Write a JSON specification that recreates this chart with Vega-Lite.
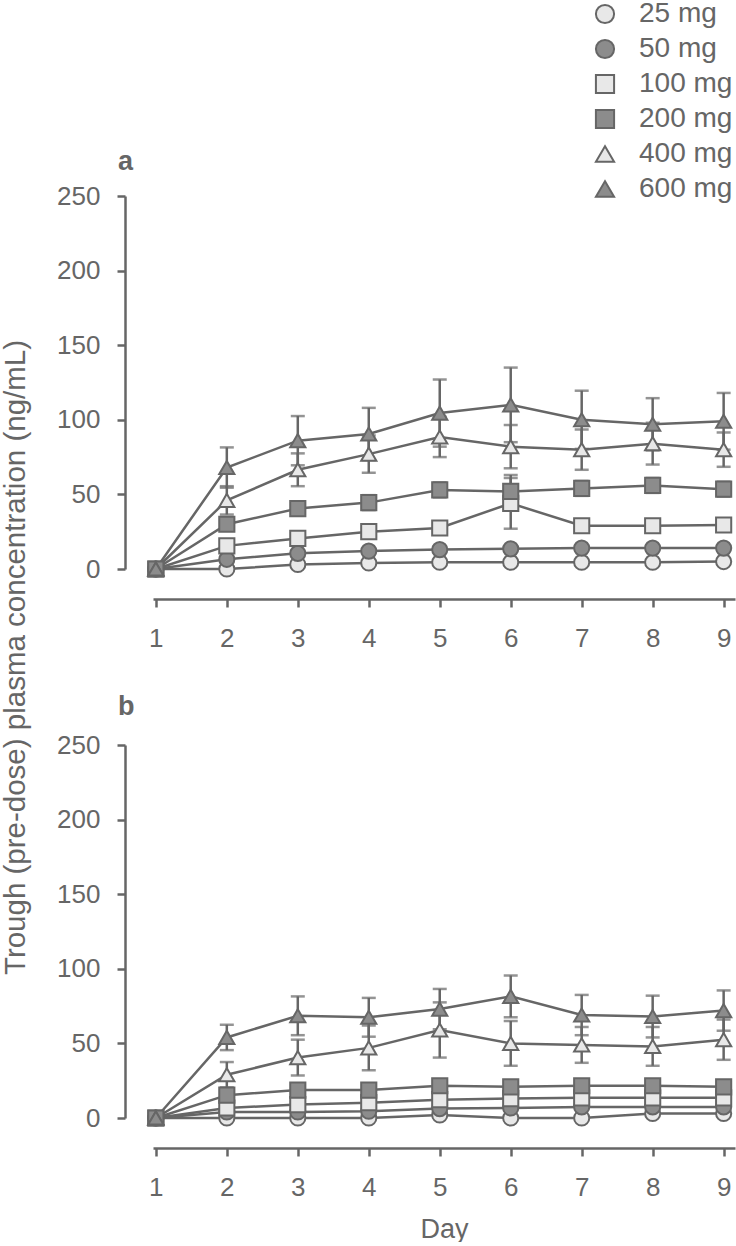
{
  "$schema": "https://vega.github.io/schema/vega-lite/v6.json",
  "background": "white",
  "autosize": {"type": "pad"},
  "padding": {"left": 0, "top": 0, "right": 0, "bottom": 0},
  "bounds": "flush",
  "spacing": 176,
  "config": {
    "font": "Liberation Sans",
    "view": {"stroke": null},
    "axis": {
      "grid": false,
      "domainColor": "#666666",
      "domainWidth": 2.5,
      "tickColor": "#666666",
      "tickWidth": 2.5,
      "tickSize": 8,
      "labelColor": "#666666",
      "labelFont": "Liberation Sans",
      "labelFontSize": 26,
      "titleColor": "#666666",
      "titleFont": "Liberation Sans",
      "titleFontSize": 27,
      "titleFontWeight": "normal"
    },
    "legend": {
      "labelFont": "Liberation Sans",
      "labelFontSize": 28,
      "labelColor": "#666666",
      "symbolStrokeWidth": 2,
      "symbolSize": 330,
      "rowPadding": 7,
      "labelOffset": 20,
      "padding": 0
    }
  },
  "data": {
    "values": [
      {"panel": "a", "dose": "25 mg", "day": 1, "mean": 0, "sd": 0},
      {"panel": "a", "dose": "25 mg", "day": 2, "mean": 0, "sd": 1.5},
      {"panel": "a", "dose": "25 mg", "day": 3, "mean": 3, "sd": 1.5},
      {"panel": "a", "dose": "25 mg", "day": 4, "mean": 4, "sd": 1.5},
      {"panel": "a", "dose": "25 mg", "day": 5, "mean": 4.5, "sd": 1.5},
      {"panel": "a", "dose": "25 mg", "day": 6, "mean": 4.5, "sd": 1.5},
      {"panel": "a", "dose": "25 mg", "day": 7, "mean": 4.5, "sd": 1.5},
      {"panel": "a", "dose": "25 mg", "day": 8, "mean": 4.5, "sd": 1.5},
      {"panel": "a", "dose": "25 mg", "day": 9, "mean": 5, "sd": 1.5},
      {"panel": "a", "dose": "50 mg", "day": 1, "mean": 0, "sd": 0},
      {"panel": "a", "dose": "50 mg", "day": 2, "mean": 6.5, "sd": 2},
      {"panel": "a", "dose": "50 mg", "day": 3, "mean": 10.5, "sd": 2},
      {"panel": "a", "dose": "50 mg", "day": 4, "mean": 12, "sd": 2},
      {"panel": "a", "dose": "50 mg", "day": 5, "mean": 13, "sd": 2},
      {"panel": "a", "dose": "50 mg", "day": 6, "mean": 13.5, "sd": 2},
      {"panel": "a", "dose": "50 mg", "day": 7, "mean": 14, "sd": 2},
      {"panel": "a", "dose": "50 mg", "day": 8, "mean": 14, "sd": 2},
      {"panel": "a", "dose": "50 mg", "day": 9, "mean": 14, "sd": 2},
      {"panel": "a", "dose": "100 mg", "day": 1, "mean": 0, "sd": 0},
      {"panel": "a", "dose": "100 mg", "day": 2, "mean": 15.5, "sd": 3},
      {"panel": "a", "dose": "100 mg", "day": 3, "mean": 20.5, "sd": 3},
      {"panel": "a", "dose": "100 mg", "day": 4, "mean": 25, "sd": 3},
      {"panel": "a", "dose": "100 mg", "day": 5, "mean": 27.5, "sd": 3},
      {"panel": "a", "dose": "100 mg", "day": 6, "mean": 44, "sd": 17},
      {"panel": "a", "dose": "100 mg", "day": 7, "mean": 29, "sd": 3},
      {"panel": "a", "dose": "100 mg", "day": 8, "mean": 29, "sd": 3},
      {"panel": "a", "dose": "100 mg", "day": 9, "mean": 29.5, "sd": 3},
      {"panel": "a", "dose": "200 mg", "day": 1, "mean": 0, "sd": 0},
      {"panel": "a", "dose": "200 mg", "day": 2, "mean": 30, "sd": 4},
      {"panel": "a", "dose": "200 mg", "day": 3, "mean": 40.5, "sd": 3},
      {"panel": "a", "dose": "200 mg", "day": 4, "mean": 44.5, "sd": 5},
      {"panel": "a", "dose": "200 mg", "day": 5, "mean": 53, "sd": 5},
      {"panel": "a", "dose": "200 mg", "day": 6, "mean": 52, "sd": 11},
      {"panel": "a", "dose": "200 mg", "day": 7, "mean": 54, "sd": 5},
      {"panel": "a", "dose": "200 mg", "day": 8, "mean": 56, "sd": 5},
      {"panel": "a", "dose": "200 mg", "day": 9, "mean": 53.5, "sd": 5},
      {"panel": "a", "dose": "400 mg", "day": 1, "mean": 0, "sd": 0},
      {"panel": "a", "dose": "400 mg", "day": 2, "mean": 46, "sd": 9.5},
      {"panel": "a", "dose": "400 mg", "day": 3, "mean": 66.5, "sd": 11},
      {"panel": "a", "dose": "400 mg", "day": 4, "mean": 77, "sd": 12.5},
      {"panel": "a", "dose": "400 mg", "day": 5, "mean": 88.5, "sd": 13.5},
      {"panel": "a", "dose": "400 mg", "day": 6, "mean": 82, "sd": 14.5},
      {"panel": "a", "dose": "400 mg", "day": 7, "mean": 80, "sd": 13.5},
      {"panel": "a", "dose": "400 mg", "day": 8, "mean": 84, "sd": 14},
      {"panel": "a", "dose": "400 mg", "day": 9, "mean": 80, "sd": 11.5},
      {"panel": "a", "dose": "600 mg", "day": 1, "mean": 0, "sd": 0},
      {"panel": "a", "dose": "600 mg", "day": 2, "mean": 68, "sd": 13.5},
      {"panel": "a", "dose": "600 mg", "day": 3, "mean": 86, "sd": 16.5},
      {"panel": "a", "dose": "600 mg", "day": 4, "mean": 90.5, "sd": 17.5},
      {"panel": "a", "dose": "600 mg", "day": 5, "mean": 104.5, "sd": 22.5},
      {"panel": "a", "dose": "600 mg", "day": 6, "mean": 110, "sd": 25},
      {"panel": "a", "dose": "600 mg", "day": 7, "mean": 100, "sd": 19.5},
      {"panel": "a", "dose": "600 mg", "day": 8, "mean": 97, "sd": 17.5},
      {"panel": "a", "dose": "600 mg", "day": 9, "mean": 99, "sd": 19},
      {"panel": "b", "dose": "25 mg", "day": 1, "mean": 0, "sd": 0},
      {"panel": "b", "dose": "25 mg", "day": 2, "mean": 0, "sd": 1},
      {"panel": "b", "dose": "25 mg", "day": 3, "mean": 0, "sd": 1},
      {"panel": "b", "dose": "25 mg", "day": 4, "mean": 0, "sd": 1},
      {"panel": "b", "dose": "25 mg", "day": 5, "mean": 2, "sd": 1},
      {"panel": "b", "dose": "25 mg", "day": 6, "mean": 0, "sd": 1},
      {"panel": "b", "dose": "25 mg", "day": 7, "mean": 0, "sd": 1},
      {"panel": "b", "dose": "25 mg", "day": 8, "mean": 3, "sd": 1},
      {"panel": "b", "dose": "25 mg", "day": 9, "mean": 3, "sd": 1},
      {"panel": "b", "dose": "50 mg", "day": 1, "mean": 0, "sd": 0},
      {"panel": "b", "dose": "50 mg", "day": 2, "mean": 4, "sd": 1.5},
      {"panel": "b", "dose": "50 mg", "day": 3, "mean": 4, "sd": 1.5},
      {"panel": "b", "dose": "50 mg", "day": 4, "mean": 4.5, "sd": 1.5},
      {"panel": "b", "dose": "50 mg", "day": 5, "mean": 6.3, "sd": 1.5},
      {"panel": "b", "dose": "50 mg", "day": 6, "mean": 6.7, "sd": 1.5},
      {"panel": "b", "dose": "50 mg", "day": 7, "mean": 7.4, "sd": 1.5},
      {"panel": "b", "dose": "50 mg", "day": 8, "mean": 7.4, "sd": 1.5},
      {"panel": "b", "dose": "50 mg", "day": 9, "mean": 7.4, "sd": 1.5},
      {"panel": "b", "dose": "100 mg", "day": 1, "mean": 0, "sd": 0},
      {"panel": "b", "dose": "100 mg", "day": 2, "mean": 6.7, "sd": 2.5},
      {"panel": "b", "dose": "100 mg", "day": 3, "mean": 9, "sd": 2.5},
      {"panel": "b", "dose": "100 mg", "day": 4, "mean": 10.3, "sd": 2.5},
      {"panel": "b", "dose": "100 mg", "day": 5, "mean": 12.3, "sd": 2.5},
      {"panel": "b", "dose": "100 mg", "day": 6, "mean": 13, "sd": 2.5},
      {"panel": "b", "dose": "100 mg", "day": 7, "mean": 13.5, "sd": 2.5},
      {"panel": "b", "dose": "100 mg", "day": 8, "mean": 13.5, "sd": 2.5},
      {"panel": "b", "dose": "100 mg", "day": 9, "mean": 13.5, "sd": 2.5},
      {"panel": "b", "dose": "200 mg", "day": 1, "mean": 0, "sd": 0},
      {"panel": "b", "dose": "200 mg", "day": 2, "mean": 15.3, "sd": 3.5},
      {"panel": "b", "dose": "200 mg", "day": 3, "mean": 18.7, "sd": 3.5},
      {"panel": "b", "dose": "200 mg", "day": 4, "mean": 18.7, "sd": 3.5},
      {"panel": "b", "dose": "200 mg", "day": 5, "mean": 21.6, "sd": 3.5},
      {"panel": "b", "dose": "200 mg", "day": 6, "mean": 20.9, "sd": 3.5},
      {"panel": "b", "dose": "200 mg", "day": 7, "mean": 21.6, "sd": 3.5},
      {"panel": "b", "dose": "200 mg", "day": 8, "mean": 21.6, "sd": 3.5},
      {"panel": "b", "dose": "200 mg", "day": 9, "mean": 20.9, "sd": 3.5},
      {"panel": "b", "dose": "400 mg", "day": 1, "mean": 0, "sd": 0},
      {"panel": "b", "dose": "400 mg", "day": 2, "mean": 29, "sd": 8.5},
      {"panel": "b", "dose": "400 mg", "day": 3, "mean": 40.5, "sd": 12},
      {"panel": "b", "dose": "400 mg", "day": 4, "mean": 47, "sd": 15},
      {"panel": "b", "dose": "400 mg", "day": 5, "mean": 59, "sd": 18.5},
      {"panel": "b", "dose": "400 mg", "day": 6, "mean": 50, "sd": 15},
      {"panel": "b", "dose": "400 mg", "day": 7, "mean": 49, "sd": 12},
      {"panel": "b", "dose": "400 mg", "day": 8, "mean": 48, "sd": 13},
      {"panel": "b", "dose": "400 mg", "day": 9, "mean": 52.5, "sd": 13.5},
      {"panel": "b", "dose": "600 mg", "day": 1, "mean": 0, "sd": 0},
      {"panel": "b", "dose": "600 mg", "day": 2, "mean": 54, "sd": 8.5},
      {"panel": "b", "dose": "600 mg", "day": 3, "mean": 68.5, "sd": 13},
      {"panel": "b", "dose": "600 mg", "day": 4, "mean": 67.5, "sd": 13},
      {"panel": "b", "dose": "600 mg", "day": 5, "mean": 73, "sd": 13.5},
      {"panel": "b", "dose": "600 mg", "day": 6, "mean": 81.5, "sd": 14},
      {"panel": "b", "dose": "600 mg", "day": 7, "mean": 69, "sd": 13.5},
      {"panel": "b", "dose": "600 mg", "day": 8, "mean": 68, "sd": 14},
      {"panel": "b", "dose": "600 mg", "day": 9, "mean": 72, "sd": 13.5}
    ]
  },
  "vconcat": [
    {
      "width": 582,
      "height": 373,
      "title": {"text": "a", "anchor": "start", "frame": "group", "dx": -35, "dy": 27, "offset": 13, "baseline": "alphabetic", "fontSize": 27, "fontWeight": "bold", "color": "#666666", "font": "Liberation Sans"},
      "transform": [{"filter": "datum.panel == 'a'"}],
      "encoding": {
        "x": {"field": "day", "type": "quantitative", "scale": {"domain": [0.96, 9.16], "nice": false, "zero": false},
              "axis": {"values": [1, 2, 3, 4, 5, 6, 7, 8, 9], "offset": 30, "labelPadding": 18, "title": null, "format": "d"}},
        "y": {"field": "mean", "type": "quantitative", "scale": {"domain": [0, 250], "nice": false},
              "axis": {"values": [0, 50, 100, 150, 200, 250], "offset": 28, "labelPadding": 17,
                       "title": "Trough (pre-dose) plasma concentration (ng/mL)",
                       "titleFontSize": 29.5,
                       "titleX": -110, "titleY": 461, "titleAngle": -90, "titleAlign": "center", "titleBaseline": "middle"}}
      },
      "layer": [
        {"mark": {"type": "errorbar", "ticks": true, "size": 14, "thickness": 2.5, "color": "#666666"},
         "encoding": {"yError": {"field": "sd"}, "detail": {"field": "dose"}}},
        {"mark": {"type": "line", "color": "#666666", "strokeWidth": 2.5},
         "encoding": {"detail": {"field": "dose"}}},
        {"mark": {"type": "point", "filled": true, "size": 230, "strokeWidth": 2, "opacity": 1},
         "encoding": {
           "stroke": {"field": "dose", "type": "nominal", "title": null,
                      "scale": {"domain": ["25 mg", "50 mg", "100 mg", "200 mg", "400 mg", "600 mg"], "range": ["#666666", "#666666", "#666666", "#666666", "#666666", "#666666"]},
                      "legend": {"orient": "none", "legendX": 438, "legendY": -196}},
           "shape": {"field": "dose", "type": "nominal", "title": null,
                     "scale": {"domain": ["25 mg", "50 mg", "100 mg", "200 mg", "400 mg", "600 mg"], "range": ["circle", "circle", "square", "square", "triangle-up", "triangle-up"]},
                     "legend": {"orient": "none", "legendX": 438, "legendY": -196}},
           "fill": {"field": "dose", "type": "nominal", "title": null,
                    "scale": {"domain": ["25 mg", "50 mg", "100 mg", "200 mg", "400 mg", "600 mg"], "range": ["#e8e8e8", "#8c8c8c", "#e8e8e8", "#8c8c8c", "#e8e8e8", "#8c8c8c"]},
                    "legend": {"orient": "none", "legendX": 438, "legendY": -196}}
         }}
      ]
    },
    {
      "width": 582,
      "height": 373,
      "title": {"text": "b", "anchor": "start", "frame": "group", "dx": -35, "dy": 23, "offset": 13, "baseline": "alphabetic", "fontSize": 27, "fontWeight": "bold", "color": "#666666", "font": "Liberation Sans"},
      "transform": [{"filter": "datum.panel == 'b'"}],
      "encoding": {
        "x": {"field": "day", "type": "quantitative", "scale": {"domain": [0.96, 9.16], "nice": false, "zero": false},
              "axis": {"values": [1, 2, 3, 4, 5, 6, 7, 8, 9], "offset": 30, "labelPadding": 18, "title": "Day", "titlePadding": 16, "format": "d"}},
        "y": {"field": "mean", "type": "quantitative", "scale": {"domain": [0, 250], "nice": false},
              "axis": {"values": [0, 50, 100, 150, 200, 250], "offset": 28, "labelPadding": 17, "title": null}}
      },
      "layer": [
        {"mark": {"type": "errorbar", "ticks": true, "size": 14, "thickness": 2.5, "color": "#666666"},
         "encoding": {"yError": {"field": "sd"}, "detail": {"field": "dose"}}},
        {"mark": {"type": "line", "color": "#666666", "strokeWidth": 2.5},
         "encoding": {"detail": {"field": "dose"}}},
        {"mark": {"type": "point", "filled": true, "size": 230, "strokeWidth": 2, "opacity": 1},
         "encoding": {
           "stroke": {"field": "dose", "type": "nominal", "title": null,
                      "scale": {"domain": ["25 mg", "50 mg", "100 mg", "200 mg", "400 mg", "600 mg"], "range": ["#666666", "#666666", "#666666", "#666666", "#666666", "#666666"]},
                      "legend": {"orient": "none", "legendX": 438, "legendY": -196}},
           "shape": {"field": "dose", "type": "nominal", "title": null,
                     "scale": {"domain": ["25 mg", "50 mg", "100 mg", "200 mg", "400 mg", "600 mg"], "range": ["circle", "circle", "square", "square", "triangle-up", "triangle-up"]},
                     "legend": {"orient": "none", "legendX": 438, "legendY": -196}},
           "fill": {"field": "dose", "type": "nominal", "title": null,
                    "scale": {"domain": ["25 mg", "50 mg", "100 mg", "200 mg", "400 mg", "600 mg"], "range": ["#e8e8e8", "#8c8c8c", "#e8e8e8", "#8c8c8c", "#e8e8e8", "#8c8c8c"]},
                    "legend": {"orient": "none", "legendX": 438, "legendY": -196}}
         }}
      ]
    }
  ]
}
